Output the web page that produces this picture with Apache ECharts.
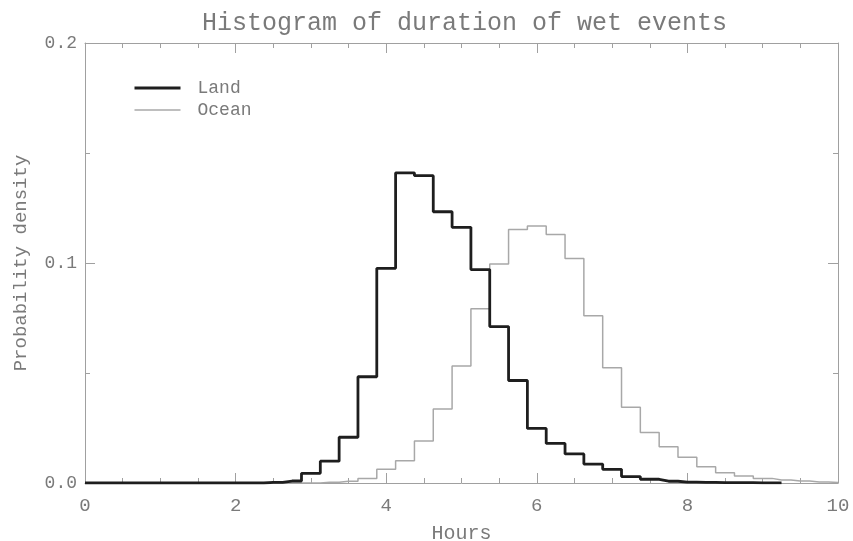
<!DOCTYPE html>
<html><head><meta charset="utf-8">
<script src="https://cdn.jsdelivr.net/npm/echarts@6/dist/echarts.min.js"></script>
<style>html,body{margin:0;padding:0;background:#fff}#c{width:853px;height:541px}</style>
</head><body><div id="c"></div>
<script>
var binCenters = [0,0.25,0.5,0.75,1,1.25,1.5,1.75,2,2.25,2.5,2.75,3,3.25,3.5,3.75,4,4.25,4.5,4.75,5,5.25,5.5,5.75,6,6.25,6.5,6.75,7,7.25,7.5,7.75,8,8.25,8.5,8.75,9,9.25,9.5,9.75,10];
var landDensity = [0,0,0,0,0,0,0,0,0,0,0.0003,0.0009,0.0044,0.0099,0.0208,0.0483,0.0976,0.141,0.1397,0.1233,0.1162,0.0970,0.0711,0.0466,0.0248,0.0180,0.0132,0.0086,0.0062,0.0029,0.0017,0.0008,0.0004,0.0003,0.0002,0.0002,0.0001,0.0001];
var oceanDensity = [0,0,0,0,0,0,0,0,0,0,0,0,0,0.0003,0.0008,0.0021,0.0062,0.0101,0.0191,0.0336,0.0532,0.0792,0.0996,0.1152,0.1168,0.1130,0.1021,0.0760,0.0524,0.0344,0.0230,0.0165,0.0117,0.0074,0.0047,0.0032,0.0021,0.0014,0.0009,0.0005,0.0002];
var xTicks = [0,2,4,6,8,10];
var yTicks = [0.0,0.1,0.2];

function pairs(vals){ return vals.map(function(v,i){ return [binCenters[i], v]; }); }
var font = 'Liberation Mono';
var txt = '#7a7a7a';
var axisCol = '#a0a0a0';
var landCol = '#1e1e1e';
var oceanCol = '#a8a8a8';
var chart = echarts.init(document.getElementById('c'));
function xAx(pos, labels){
  return {type:'value', position:pos, min:0, max:10, interval:2,
    axisLine:{show:true, onZero:false, lineStyle:{color:axisCol, width:1}},
    axisTick:{show:true, inside:true, length:10, lineStyle:{color:axisCol}},
    minorTick:{show:true, splitNumber:4, length:5, lineStyle:{color:axisCol}},
    splitLine:{show:false},
    axisLabel:{show:labels, color:txt, fontFamily:font, fontSize:19, margin:13},
    name: labels ? 'Hours' : '', nameLocation:'middle', nameGap:41,
    nameTextStyle:{color:txt, fontFamily:font, fontSize:20}
  };
}
function yAx(pos, labels){
  return {type:'value', position:pos, min:0, max:0.2, interval:0.1,
    axisLine:{show:true, onZero:false, lineStyle:{color:axisCol, width:1}},
    axisTick:{show:true, inside:true, length:10, lineStyle:{color:axisCol}},
    minorTick:{show:true, splitNumber:2, length:5, lineStyle:{color:axisCol}},
    splitLine:{show:false},
    axisLabel:{show:labels, color:txt, fontFamily:font, fontSize:18, margin:8,
      formatter:function(v){ return v.toFixed(1); }},
    name: labels ? 'Probability density' : '', nameLocation:'middle', nameGap:55,
    nameTextStyle:{color:txt, fontFamily:font, fontSize:19}
  };
}
chart.setOption({
  backgroundColor:'#fff',
  animation:false,
  title:{text:'Histogram of duration of wet events', left:197, top:6,
    textStyle:{color:txt, fontFamily:font, fontSize:25, fontWeight:'normal'}},
  grid:{left:85, right:15, top:43, bottom:58, containLabel:false, outerBoundsMode:'none'},
  legend:{orient:'vertical', left:128, top:74, itemWidth:46, itemHeight:12, itemGap:4,
    textStyle:{color:txt, fontFamily:font, fontSize:18, padding:[0,0,0,12]},
    data:[
      {name:'Land', itemStyle:{color:'rgba(0,0,0,0)', borderWidth:0}, lineStyle:{color:landCol, width:3}},
      {name:'Ocean', itemStyle:{color:'rgba(0,0,0,0)', borderWidth:0}, lineStyle:{color:oceanCol, width:1.5}}
    ]},
  xAxis:[xAx('bottom', true), xAx('top', false)],
  yAxis:[yAx('left', true), yAx('right', false)],
  series:[
    {name:'Ocean', type:'line', step:'middle', data:pairs(oceanDensity), symbol:'none',
      lineStyle:{color:oceanCol, width:1.5}, itemStyle:{color:oceanCol}, z:2},
    {name:'Land', type:'line', step:'middle', data:pairs(landDensity), symbol:'none',
      lineStyle:{color:landCol, width:2.8}, itemStyle:{color:landCol}, z:3}
  ]
});
</script></body></html>
